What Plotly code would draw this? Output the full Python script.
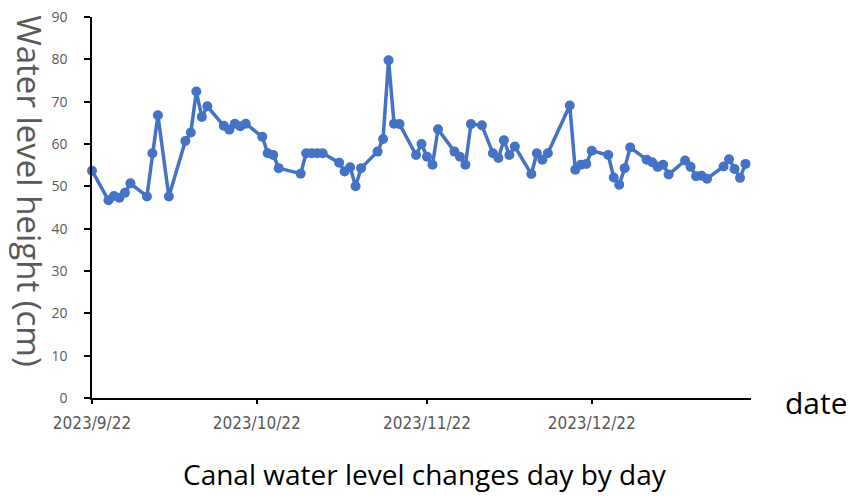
import plotly.graph_objects as go
import pandas as pd

start_date = "2023-09-22"
day_offsets = [0, 3, 4, 5, 6, 7, 10, 11, 12, 14, 17, 18, 19, 20, 21, 24, 25, 26, 27, 28,
               31, 32, 33, 34, 38, 39, 40, 41, 42, 45, 46, 47, 48, 49, 52, 53, 54, 55, 56,
               59, 60, 61, 62, 63, 66, 67, 68, 69, 71, 73, 74, 75, 76, 77, 80, 81, 82, 83,
               87, 88, 89, 90, 91, 94, 95, 96, 97, 98, 101, 102, 103, 104, 105, 108, 109,
               110, 111, 112, 115, 116, 117, 118, 119]
water_level = [53.7, 46.7, 47.7, 47.3, 48.5, 50.7, 47.6, 57.8, 66.8, 47.6, 60.7, 62.7, 72.4,
               66.4, 68.9, 64.3, 63.4, 64.8, 64.2, 64.8,
               61.7, 57.8, 57.4, 54.3, 53.0, 57.8, 57.8, 57.8, 57.8, 55.6, 53.5, 54.5, 50.0,
               54.3, 58.2, 61.2, 79.8, 64.8, 64.7,
               57.4, 60.0, 57.0, 55.1, 63.5, 58.2, 57.0, 55.1, 64.7, 64.4, 57.8, 56.7, 60.9,
               57.4, 59.4, 52.9, 57.8, 56.3, 57.8,
               69.1, 53.9, 55.1, 55.3, 58.4, 57.4, 52.1, 50.4, 54.3, 59.2, 56.3, 55.7, 54.6,
               55.1, 52.8, 56.1, 54.6,
               52.4, 52.5, 51.8, 54.7, 56.4, 54.1, 52.0, 55.3]
tick_dates = ["2023-09-22", "2023-10-22", "2023-11-22", "2023-12-22"]
tick_labels = ["2023/9/22", "2023/10/22", "2023/11/22", "2023/12/22"]
y_ticks = [0, 10, 20, 30, 40, 50, 60, 70, 80, 90]

dates = pd.to_datetime(start_date) + pd.to_timedelta(day_offsets, unit="D")

fig = go.Figure()
fig.add_trace(go.Scatter(
    x=dates, y=water_level, mode="lines+markers",
    line=dict(color="#4472C4", width=3.5),
    marker=dict(color="#4472C4", size=10),
    showlegend=False, cliponaxis=False,
))

fig.update_layout(
    width=846, height=489,
    margin=dict(l=84, r=103, t=9, b=99, autoexpand=False),
    paper_bgcolor="white", plot_bgcolor="white",
    font=dict(family="Open Sans, DejaVu Sans, sans-serif", color="#595959"),
    xaxis=dict(
        range=[pd.Timestamp("2023-09-22"), pd.Timestamp("2024-01-20")],
        tickmode="array", tickvals=pd.to_datetime(tick_dates), ticktext=tick_labels,
        showline=True, linecolor="black", linewidth=1.5,
        ticks="outside", ticklen=4, tickcolor="black", tickwidth=1.5,
        showgrid=False, zeroline=False, automargin=False, ticklabelstandoff=5,
        ticklabeloverflow="allow",
        tickfont=dict(family="DejaVu Sans Condensed, Liberation Sans Narrow, Roboto, sans-serif",
                      size=17, color="#595959"),
    ),
    yaxis=dict(
        range=[0, 90], tickmode="array", tickvals=y_ticks,
        showline=True, linecolor="black", linewidth=1.5,
        ticks="outside", ticklen=6, tickcolor="black", tickwidth=1.5,
        showgrid=False, zeroline=False, automargin=False, ticklabelstandoff=14,
        ticklabeloverflow="allow",
        tickfont=dict(family="Open Sans, sans-serif", size=14, color="#595959"),
    ),
)

fig.add_annotation(text="Water level height (cm)", xref="paper", yref="paper",
                   x=-0.094, y=0.545, xanchor="center", yanchor="middle", textangle=90,
                   showarrow=False, font=dict(size=33, color="#595959", family="Open Sans, sans-serif"))
fig.add_annotation(text="date", xref="paper", yref="paper",
                   x=1.049, y=-0.013, xanchor="left", yanchor="middle",
                   showarrow=False, font=dict(size=30, color="black", family="Open Sans, sans-serif"))
fig.add_annotation(text="Canal water level changes day by day", xref="paper", yref="paper",
                   x=0.505, y=-0.2, xanchor="center", yanchor="middle",
                   showarrow=False, font=dict(size=28, color="black", family="Open Sans, sans-serif"))

fig.write_html("out.html")
